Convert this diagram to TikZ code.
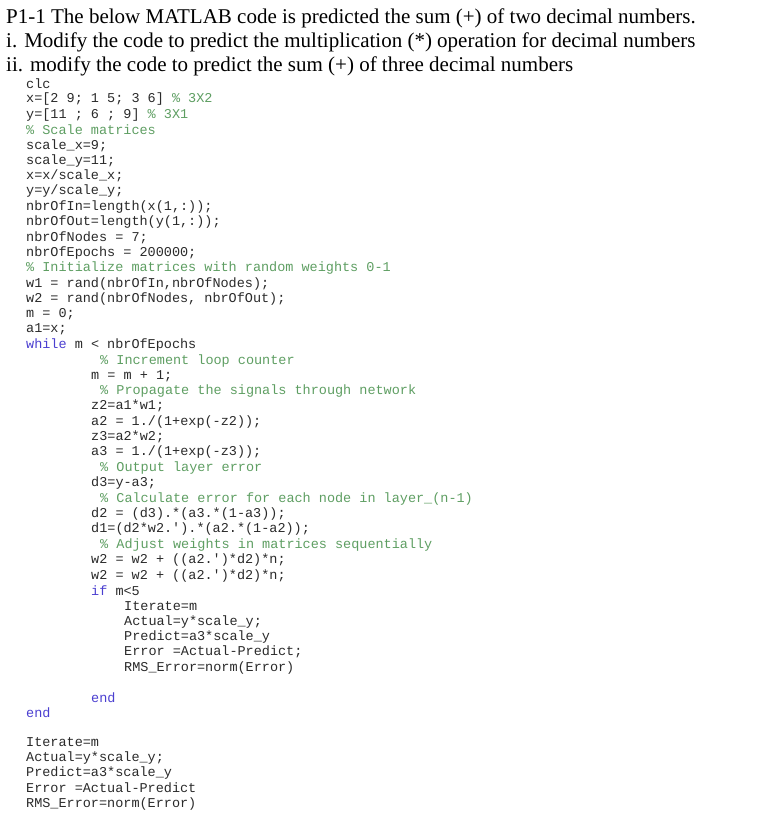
\documentclass[tikz,border=0pt]{standalone}
\usepackage{fontspec}
\setmainfont{Liberation Serif}
\setmonofont{Liberation Mono}
\definecolor{cm}{HTML}{5E9E62}
\definecolor{kw}{HTML}{4B3FD0}
\definecolor{tx}{HTML}{2A2A2A}
\tikzset{ttl/.style={anchor=west,inner sep=0pt,font=\fontsize{21}{24}\selectfont},
 cd/.style={anchor=west,inner sep=0pt,text=tx,font=\fontsize{13.5}{15}\selectfont\ttfamily},
 cmt/.style={cd,text=cm},kwd/.style={cd,text=kw}}
\begin{document}
\begin{tikzpicture}[x=1pt,y=-1pt]
\useasboundingbox (0,0) rectangle (759,822);
\node[ttl] (t1) at (6,18) {P1-1 The below MATLAB code is predicted the sum (+) of two decimal numbers.};
\node[ttl] (t2) at (6,42) {i. Modify the code to predict the multiplication (*) operation for decimal numbers};
\node[ttl] (t3) at (6,66) {ii. modify the code to predict the sum (+) of three decimal numbers};
\node[cd] (c1) at (26,84) {clc};
\node[cd] (c2) at (26,99.4) {x=[2 9; 1 5; 3 6] \textcolor{cm}{\% 3X2}};
\node[cd] (c3) at (26,114.7) {y=[11 ; 6 ; 9] \textcolor{cm}{\% 3X1}};
\node[cmt] (c4) at (26,130.1) {\% Scale matrices};
\node[cd] (c5) at (26,145.4) {scale\_x=9;};
\node[cd] (c6) at (26,160.8) {scale\_y=11;};
\node[cd] (c7) at (26,176.1) {x=x/scale\_x;};
\node[cd] (c8) at (26,191.5) {y=y/scale\_y;};
\node[cd] (c9) at (26,206.8) {nbrOfIn=length(x(1,:));};
\node[cd] (c10) at (26,222.2) {nbrOfOut=length(y(1,:));};
\node[cd] (c11) at (26,237.5) {nbrOfNodes = 7;};
\node[cd] (c12) at (26,252.9) {nbrOfEpochs = 200000;};
\node[cmt] (c13) at (26,268.2) {\% Initialize matrices with random weights 0-1};
\node[cd] (c14) at (26,283.6) {w1 = rand(nbrOfIn,nbrOfNodes);};
\node[cd] (c15) at (26,298.9) {w2 = rand(nbrOfNodes, nbrOfOut);};
\node[cd] (c16) at (26,314.3) {m = 0;};
\node[cd] (c17) at (26,329.6) {a1=x;};
\node[cd] (c18) at (26,345) {\textcolor{kw}{while} m < nbrOfEpochs};
\node[cmt] (c19) at (100,361) {\% Increment loop counter};
\node[cd] (c20) at (91,376) {m = m + 1;};
\node[cmt] (c21) at (100,391) {\% Propagate the signals through network};
\node[cd] (c22) at (91,406) {z2=a1*w1;};
\node[cd] (c23) at (91,422) {a2 = 1./(1+exp(-z2));};
\node[cd] (c24) at (91,437) {z3=a2*w2;};
\node[cd] (c25) at (91,452) {a3 = 1./(1+exp(-z3));};
\node[cmt] (c26) at (100,468) {\% Output layer error};
\node[cd] (c27) at (91,483) {d3=y-a3;};
\node[cmt] (c28) at (100,499) {\% Calculate error for each node in layer\_(n-1)};
\node[cd] (c29) at (91,514) {d2 = (d3).*(a3.*(1-a3));};
\node[cd] (c30) at (91,529) {d1=(d2*w2.').*(a2.*(1-a2));};
\node[cmt] (c31) at (100,545) {\% Adjust weights in matrices sequentially};
\node[cd] (c32) at (91,560) {w2 = w2 + ((a2.')*d2)*n;};
\node[cd] (c33) at (91,576) {w2 = w2 + ((a2.')*d2)*n;};
\node[cd] (c34) at (91,591) {\textcolor{kw}{if} m<5};
\node[cd] (c35) at (124,606) {Iterate=m};
\node[cd] (c36) at (124,622) {Actual=y*scale\_y;};
\node[cd] (c37) at (124,637) {Predict=a3*scale\_y};
\node[cd] (c38) at (124,652) {Error =Actual-Predict;};
\node[cd] (c39) at (124,668) {RMS\_Error=norm(Error)};
\node[kwd] (c40) at (91,698) {end};
\node[kwd] (c41) at (26,713) {end};
\node[cd] (c42) at (26,742) {Iterate=m};
\node[cd] (c43) at (26,758) {Actual=y*scale\_y;};
\node[cd] (c44) at (26,773) {Predict=a3*scale\_y};
\node[cd] (c45) at (26,788) {Error =Actual-Predict};
\node[cd] (c46) at (26,804) {RMS\_Error=norm(Error)};
\end{tikzpicture}
\end{document}
